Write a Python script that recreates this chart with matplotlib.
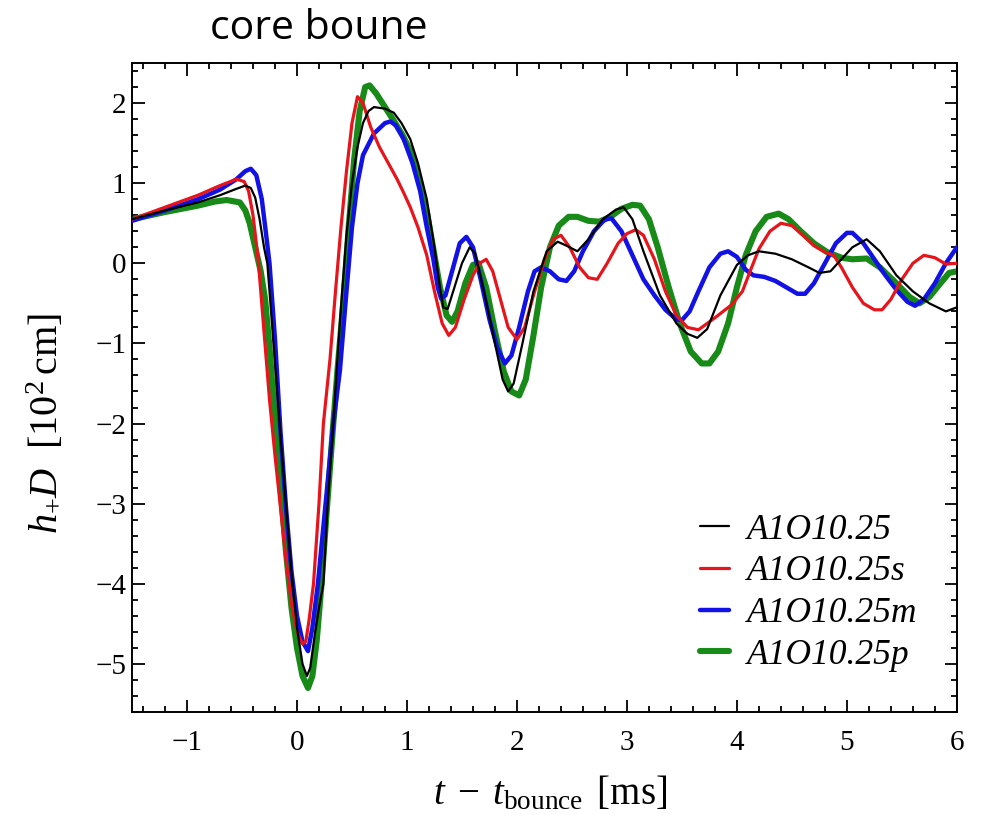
import numpy as np
import matplotlib
matplotlib.use("Agg")
import matplotlib.pyplot as plt
from matplotlib.ticker import MultipleLocator

# =========================
# DATA
# =========================

BLACK_X = [-1.5, -1.2, -0.9, -0.7, -0.55, -0.47, -0.42, -0.38, -0.34, -0.3, -0.27,
           -0.25, -0.2, -0.15, -0.1, -0.05, 0.0, 0.05, 0.09, 0.12, 0.16, 0.2, 0.24,
           0.28, 0.33, 0.36, 0.4, 0.45, 0.5, 0.55, 0.6, 0.65, 0.7, 0.8, 0.88, 0.95,
           1.03, 1.1, 1.18, 1.25, 1.3, 1.33, 1.37, 1.42, 1.5, 1.57, 1.62, 1.7, 1.8,
           1.87, 1.92, 1.97, 2.05, 2.15, 2.27, 2.37, 2.45, 2.55, 2.65, 2.78, 2.9,
           2.97, 3.05, 3.15, 3.3, 3.45, 3.55, 3.64, 3.73, 3.85, 4.0, 4.1, 4.2, 4.35,
           4.5, 4.65, 4.75, 4.85, 4.95, 5.05, 5.18, 5.3, 5.45, 5.6, 5.75, 5.9, 6.0]
BLACK_Y = [0.55, 0.66, 0.76, 0.85, 0.93, 0.97, 0.94, 0.82, 0.55, 0.2, 0.0,
           -0.35, -1.25, -2.15, -3.0, -3.85, -4.55, -5.0, -5.15, -5.05, -4.65, -4.3, -4.0,
           -3.0, -2.0, -1.35, -0.55, 0.35, 1.0, 1.45, 1.75, 1.9, 1.95, 1.93, 1.88, 1.75,
           1.55, 1.25, 0.8, 0.2, -0.3, -0.55, -0.57, -0.35, 0.0, 0.2, 0.12, -0.35, -1.0,
           -1.45, -1.6, -1.5, -1.0, -0.35, 0.15, 0.27, 0.22, 0.15, 0.3, 0.55, 0.67,
           0.7, 0.55, 0.15, -0.4, -0.75, -0.88, -0.93, -0.82, -0.4, -0.02, 0.1, 0.15, 0.12,
           0.05, -0.05, -0.12, -0.1, 0.05, 0.2, 0.3, 0.15, -0.15, -0.35, -0.5, -0.6, -0.55]

RED_X = [-1.5, -1.2, -0.9, -0.7, -0.55, -0.48, -0.44, -0.4, -0.37, -0.35, -0.3,
         -0.25, -0.2, -0.15, -0.1, -0.05, 0.0, 0.05, 0.08, 0.11, 0.15, 0.2, 0.24,
         0.3, 0.35, 0.4, 0.45, 0.5, 0.55, 0.6, 0.67, 0.75, 0.83, 0.91, 0.97, 1.03,
         1.1, 1.18, 1.25, 1.32, 1.38, 1.44, 1.52, 1.6, 1.66, 1.72, 1.78, 1.85, 1.92,
         2.0, 2.07, 2.15, 2.25, 2.33, 2.4, 2.48, 2.57, 2.65, 2.73, 2.82, 2.92, 3.0,
         3.08, 3.15, 3.25, 3.35, 3.45, 3.55, 3.65, 3.8, 3.95, 4.05, 4.12, 4.2, 4.3,
         4.4, 4.5, 4.6, 4.7, 4.8, 4.88, 4.95, 5.05, 5.15, 5.25, 5.32, 5.4, 5.5, 5.6,
         5.7, 5.8, 5.9, 6.0]
RED_Y = [0.55, 0.7, 0.85, 0.97, 1.05, 1.02, 0.9, 0.6, 0.25, 0.0, -0.85,
         -1.7, -2.4, -3.05, -3.7, -4.25, -4.6, -4.75, -4.72, -4.45, -4.0, -3.0, -2.0,
         -1.2, -0.35, 0.45, 1.15, 1.75, 2.08, 2.0, 1.7, 1.45, 1.25, 1.05, 0.88, 0.7,
         0.45, 0.1, -0.35, -0.75, -0.9, -0.8, -0.45, -0.15, 0.0, 0.05, -0.1, -0.45, -0.8,
         -0.95, -0.8, -0.4, 0.05, 0.3, 0.35, 0.2, -0.05, -0.18, -0.2, 0.0, 0.25, 0.37,
         0.42, 0.35, 0.05, -0.35, -0.65, -0.8, -0.83, -0.68, -0.52, -0.35, -0.1, 0.18, 0.4,
         0.5, 0.47, 0.35, 0.22, 0.14, 0.1, -0.05, -0.3, -0.5, -0.58, -0.58, -0.45, -0.2, 0.0,
         0.1, 0.07, -0.01, 0.0]

BLUE_X = [-1.5, -1.2, -0.9, -0.7, -0.55, -0.47, -0.42, -0.37, -0.32, -0.28, -0.25,
          -0.2, -0.15, -0.1, -0.05, 0.0, 0.05, 0.1, 0.14, 0.19, 0.26, 0.33, 0.39,
          0.45, 0.5, 0.55, 0.6, 0.7, 0.8, 0.85, 0.9, 0.97, 1.05, 1.12, 1.18, 1.24,
          1.28, 1.31, 1.35, 1.42, 1.48, 1.54, 1.6, 1.67, 1.75, 1.82, 1.89, 1.95, 2.02,
          2.1, 2.16, 2.22, 2.3, 2.38, 2.45, 2.52, 2.6, 2.7, 2.8, 2.86, 2.95, 3.05,
          3.15, 3.25, 3.35, 3.45, 3.5, 3.57, 3.65, 3.75, 3.85, 3.92, 4.0, 4.08, 4.15,
          4.25, 4.35, 4.45, 4.55, 4.62, 4.7, 4.8, 4.9, 5.0, 5.05, 5.15, 5.25, 5.35,
          5.45, 5.55, 5.62, 5.7, 5.8, 5.9, 6.0]
BLUE_Y = [0.53, 0.66, 0.8, 0.92, 1.05, 1.15, 1.18, 1.1, 0.8, 0.35, 0.0,
          -0.95, -2.1, -3.05, -3.85, -4.4, -4.72, -4.84, -4.55, -4.0, -3.0, -2.0, -1.34,
          -0.35, 0.45, 1.0, 1.35, 1.62, 1.75, 1.77, 1.72, 1.55, 1.25, 0.9, 0.45, 0.05,
          -0.3, -0.44, -0.4, -0.05, 0.25, 0.33, 0.2, -0.2, -0.7, -1.05, -1.25, -1.15, -0.8,
          -0.35, -0.1, -0.05, -0.1, -0.2, -0.22, -0.1, 0.15, 0.4, 0.55, 0.56, 0.4, 0.1,
          -0.2, -0.4, -0.58, -0.7, -0.71, -0.6, -0.35, -0.05, 0.12, 0.15, 0.08, -0.08, -0.15,
          -0.17, -0.22, -0.3, -0.38, -0.38, -0.25, 0.0, 0.25, 0.38, 0.38, 0.25, 0.05, -0.15,
          -0.33, -0.48, -0.53, -0.45, -0.25, 0.0, 0.2]

GREEN_X = [-1.5, -1.2, -0.9, -0.75, -0.64, -0.52, -0.47, -0.43, -0.38, -0.33, -0.29,
           -0.25, -0.2, -0.15, -0.1, -0.05, 0.0, 0.05, 0.1, 0.14, 0.18, 0.22, 0.27,
           0.33, 0.37, 0.42, 0.47, 0.52, 0.57, 0.62, 0.66, 0.72, 0.8, 0.88, 0.96, 1.05,
           1.12, 1.18, 1.25, 1.3, 1.36, 1.41, 1.46, 1.53, 1.6, 1.65, 1.72, 1.8, 1.88,
           1.95, 2.02, 2.08, 2.15, 2.22, 2.3, 2.38, 2.47, 2.55, 2.65, 2.75, 2.85, 2.95,
           3.05, 3.12, 3.2, 3.28, 3.38, 3.48, 3.58, 3.68, 3.75, 3.83, 3.92, 4.0, 4.08,
           4.17, 4.27, 4.38, 4.47, 4.58, 4.7, 4.82, 4.95, 5.05, 5.18, 5.3, 5.45, 5.57,
           5.66, 5.75, 5.85, 5.93, 6.0]
GREEN_Y = [0.55, 0.64, 0.72, 0.77, 0.79, 0.76, 0.66, 0.5, 0.2, -0.1, -0.45,
           -1.05, -1.95, -2.8, -3.6, -4.3, -4.8, -5.15, -5.3, -5.15, -4.7, -4.05, -3.1,
           -2.0, -1.3, -0.5, 0.45, 1.3, 1.9, 2.2, 2.22, 2.12, 1.95, 1.78, 1.6, 1.35,
           1.0, 0.65, 0.1, -0.3, -0.65, -0.73, -0.6, -0.25, -0.02, 0.0, -0.3, -0.85, -1.35,
           -1.6, -1.65, -1.45, -0.9, -0.3, 0.2, 0.47, 0.58, 0.58, 0.53, 0.52, 0.58, 0.68,
           0.73, 0.72, 0.55, 0.2, -0.3, -0.75, -1.1, -1.25, -1.25, -1.1, -0.75, -0.3, 0.1,
           0.4, 0.58, 0.62, 0.55, 0.4, 0.25, 0.14, 0.07, 0.05, 0.06, -0.05, -0.25, -0.42,
           -0.5, -0.42, -0.25, -0.12, -0.1]

LABELS = ["A1O10.25", "A1O10.25s", "A1O10.25m", "A1O10.25p"]
COLORS = ["black", "#e8141c", "#1212e6", "#178a17"]
WIDTHS = [1.6, 2.3, 3.2, 4.4]
ZORDER = [5, 4, 3, 2]   # green at the bottom, black on top

XTICKS = [-1, 0, 1, 2, 3, 4, 5, 6]
YTICKS = [-5, -4, -3, -2, -1, 0, 1, 2]

# =========================
# STYLE
# =========================

plt.rcParams["mathtext.fontset"] = "custom"
plt.rcParams["mathtext.rm"] = "Liberation Serif"
plt.rcParams["mathtext.it"] = "Liberation Serif:italic"
plt.rcParams["font.family"] = "Liberation Serif"


def main():

    fig = plt.figure(figsize=(9.89, 8.15), dpi=100)
    ax = fig.add_axes([0.1335, 0.1264, 0.834, 0.7963])

    series = [(BLACK_X, BLACK_Y), (RED_X, RED_Y), (BLUE_X, BLUE_Y), (GREEN_X, GREEN_Y)]

    for (xs, ys), lab, col, lw, z in zip(series, LABELS, COLORS, WIDTHS, ZORDER):
        ax.plot(xs, ys, color=col, linewidth=lw, label=lab, zorder=z,
                solid_capstyle="round", solid_joinstyle="round")

    ax.set_xlim(-1.5, 6)
    ax.set_ylim(-5.6, 2.5)

    ax.set_xticks(XTICKS)
    ax.set_yticks(YTICKS)
    ax.xaxis.set_minor_locator(MultipleLocator(0.2))
    ax.yaxis.set_minor_locator(MultipleLocator(0.2))

    ax.tick_params(which="both", direction="in", top=True, right=True,
                   width=1.3, labelsize=21, colors="black")
    ax.tick_params(which="major", length=9)
    ax.tick_params(which="minor", length=4.5)
    ax.tick_params(axis="x", which="major", pad=13)
    ax.tick_params(axis="y", which="major", pad=4)

    for spine in ax.spines.values():
        spine.set_linewidth(1.4)

    ax.set_xlabel(r"$t\;-\;t_{\mathrm{bounce}}\ \,[\mathrm{ms}]$", fontsize=28)
    ax.set_ylabel(r"$h_{+}D\ \ [10^{2}\,\mathrm{cm}]$", fontsize=29)
    ax.xaxis.set_label_coords(0.507, -0.096)
    ax.yaxis.set_label_coords(-0.08, 0.445)

    ax.legend(
        loc="lower left",
        bbox_to_anchor=(0.688, 0.062),
        borderaxespad=0,
        borderpad=0,
        frameon=False,
        handlelength=0.84,
        handletextpad=0.5,
        labelspacing=0.245,
        prop={"family": "Liberation Serif", "style": "italic", "size": 25.6},
    )

    fig.text(0.322, 0.952, "core boune", fontsize=29.5, family="Open Sans",
             ha="center", va="baseline")

    fig.savefig("out.png", dpi=100, facecolor="white")


if __name__ == "__main__":
    main()
